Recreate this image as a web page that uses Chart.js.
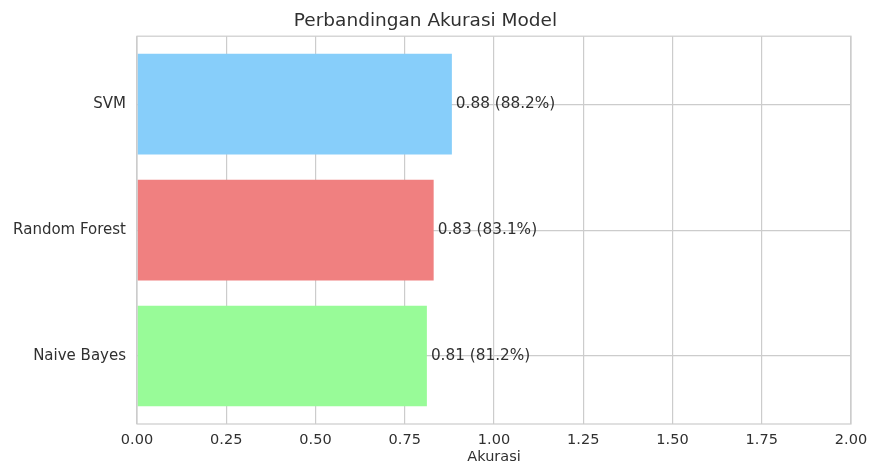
<!DOCTYPE html>
<html>
<head>
<meta charset="utf-8">
<script src="https://cdn.jsdelivr.net/npm/chart.js@4.4.0/dist/chart.umd.min.js"></script>
<style>
  body { margin: 0; background: #fff; }
  #wrap { width: 869px; height: 464px; }
</style>
</head>
<body>
<div id="wrap"><canvas id="myChart" width="869" height="464"></canvas></div>
<script>
const models = ['Naive Bayes', 'Random Forest', 'SVM'];
const accuracy = [0.812, 0.831, 0.882];
const barColors = ['#98FB98', '#F08080', '#87CEFA'];
const xTicks = [0, 0.25, 0.5, 0.75, 1, 1.25, 1.5, 1.75, 2];

const textColor = '#303030';
const gridColor = '#cccccc';
const font = 'DejaVu Sans';

const ctx = document.getElementById('myChart').getContext('2d');

// spines all round the plot, like matplotlib
const frame = {
  id: 'frame',
  afterDatasetsDraw(chart) {
    const a = chart.chartArea;
    const c = chart.ctx;
    c.save();
    c.strokeStyle = gridColor;
    c.lineWidth = 1.2;
    c.strokeRect(a.left, a.top, a.right - a.left, a.bottom - a.top);
    c.restore();
  }
};

// "0.88 (88.2%)" right after each bar
const valueLabels = {
  id: 'valueLabels',
  afterDatasetsDraw(chart) {
    const c = chart.ctx;
    const meta = chart.getDatasetMeta(0);
    c.save();
    c.font = '15.3px "' + font + '"';
    c.fillStyle = textColor;
    c.textAlign = 'left';
    c.textBaseline = 'middle';
    meta.data.forEach((bar, i) => {
      const v = accuracy[i];
      c.fillText(v.toFixed(2) + ' (' + (v * 100).toFixed(1) + '%)', bar.x + 4, bar.y);
    });
    c.restore();
  }
};

const data = {
  datasets: [{
    data: models.map((m, i) => ({ x: accuracy[i], y: i })),
    backgroundColor: barColors,
    borderWidth: 0,
    barPercentage: 0.8,
    categoryPercentage: 1.0,
  }]
};

const config = {
  type: 'bar',
  data: data,
  options: {
    indexAxis: 'y',
    responsive: false,
    animation: false,
    layout: { padding: { left: 0, right: 18, top: 0, bottom: 0 } },
    plugins: {
      legend: { display: false },
      tooltip: { enabled: false },
      title: {
        display: true,
        text: 'Perbandingan Akurasi Model',
        color: textColor,
        font: { family: font, size: 18.5, weight: 'normal', lineHeight: 1.2 },
        padding: { top: 10, bottom: 4 }
      }
    },
    scales: {
      x: {
        type: 'linear',
        min: 0,
        max: 2,
        afterBuildTicks(axis) { axis.ticks = xTicks.map(v => ({ value: v })); },
        afterFit(scale) {
          scale.height = 40;
          scale.paddingLeft = 0;
          scale.paddingRight = 0;
        },
        ticks: {
          color: textColor,
          padding: 8,
          maxRotation: 0,
          font: { family: font, size: 14.5 },
          callback: v => Number(v).toFixed(2)
        },
        grid: { color: gridColor, lineWidth: 1.2, drawTicks: false },
        border: { display: false },
        title: {
          display: true,
          text: 'Akurasi',
          color: textColor,
          padding: 0,
          font: { family: font, size: 14.5, lineHeight: 1 }
        }
      },
      y: {
        type: 'linear',
        min: -0.54,
        max: 2.54,
        offset: false,
        afterBuildTicks(axis) { axis.ticks = models.map((m, i) => ({ value: i })); },
        afterFit(scale) { scale.width = 137; },
        ticks: {
          color: textColor,
          padding: 11,
          font: { family: font, size: 15 },
          callback: v => models[v]
        },
        grid: { color: gridColor, lineWidth: 1.2, drawTicks: false, offset: false },
        border: { display: false }
      }
    }
  },
  plugins: [frame, valueLabels]
};

const myChart = new Chart(ctx, config);
</script>
</body>
</html>
